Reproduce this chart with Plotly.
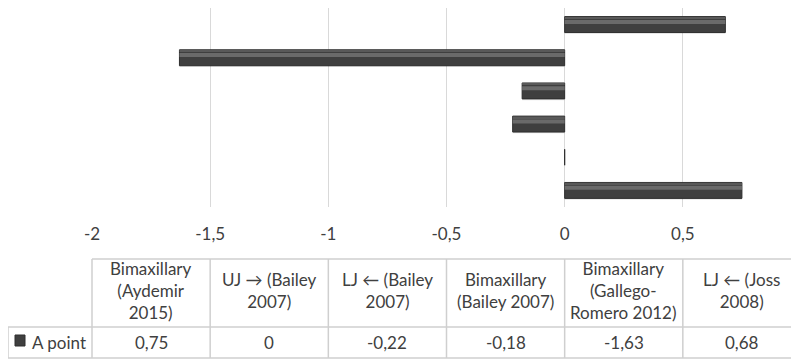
import plotly.graph_objects as go

categories = [
    "Bimaxillary<br>(Aydemir<br>2015)",
    "UJ → (Bailey<br>2007)",
    "LJ ← (Bailey<br>2007)",
    "Bimaxillary<br>(Bailey 2007)",
    "Bimaxillary<br>(Gallego-<br>Romero 2012)",
    "LJ ← (Joss<br>2008)",
]
values = [0.75, 0, -0.22, -0.18, -1.63, 0.68]
series_name = "A point"
tick_vals = [-2, -1.5, -1, -0.5, 0, 0.5, 1]
tick_labels = ["-2", "-1,5", "-1", "-0,5", "0", "0,5", "1"]

X_MIN, X_MAX = -2, 1
W, H = 799, 359
# page has an 8px body margin; figure coords = page coords - 8
ML, MT = 84, 0
PW, PH = 709, 199
MR = W - ML - PW
MB = H - MT - PH
PLOT_LEFT_PAGE, PLOT_BOTTOM_PAGE = 92, 207

def py(Y):
    return (PLOT_BOTTOM_PAGE - Y) / PH

def pxx(X):
    return (X - PLOT_LEFT_PAGE) / PW

FONT = "Lato"
FS = 17
TXT = "#404040"
GRID = "#d9d9d9"
TBL = "#cfcfcf"

cat_ids = list(range(len(categories)))

fig = go.Figure()
# soft shadow
fig.add_trace(go.Bar(x=values, y=cat_ids, orientation="h", width=0.5, offset=-0.28,
                     marker=dict(color="rgba(0,0,0,0.10)", line=dict(width=0)),
                     showlegend=False, hoverinfo="skip"))
# main bar
fig.add_trace(go.Bar(x=values, y=cat_ids, orientation="h", width=0.48, name=series_name,
                     marker=dict(color="#3f3f3f", line=dict(color="#2e2e2e", width=1)),
                     showlegend=False))
# top edge highlight
fig.add_trace(go.Bar(x=values, y=cat_ids, orientation="h", width=0.05, offset=0.18,
                     marker=dict(color="#595959", line=dict(width=0)),
                     showlegend=False, hoverinfo="skip"))
# highlight stripe
fig.add_trace(go.Bar(x=values, y=cat_ids, orientation="h", width=0.12, offset=0.02,
                     marker=dict(color="#6a6a6a", line=dict(width=0)),
                     showlegend=False, hoverinfo="skip"))

fig.update_layout(
    width=W, height=H, barmode="overlay",
    margin=dict(l=ML, r=MR, t=MT, b=MB),
    paper_bgcolor="white", plot_bgcolor="white",
    font=dict(family=FONT, size=FS, color=TXT),
    xaxis=dict(range=[X_MIN, X_MAX], tickvals=tick_vals, ticktext=tick_labels,
               showgrid=True, gridcolor=GRID, gridwidth=1,
               zeroline=True, zerolinecolor=GRID, zerolinewidth=1,
               showline=False, ticks="", ticklabelstandoff=15,
               tickfont=dict(family=FONT, size=FS, color=TXT)),
    yaxis=dict(range=[-0.5, len(categories) - 0.5], showticklabels=False,
               showgrid=False, zeroline=False, showline=False, ticks=""),
)

shapes = []
annos = []
top_y, mid_y, bot_y = py(259), py(327), py(358)
col_edges = [X_MIN + 0.5 * i for i in range(len(categories) + 1)]

# horizontal lines
shapes.append(dict(type="line", xref="paper", yref="paper", x0=0, x1=1.01, y0=top_y, y1=top_y,
                   line=dict(color=TBL, width=1.5)))
for yy in (mid_y, bot_y):
    shapes.append(dict(type="line", xref="paper", yref="paper", x0=pxx(8), x1=1.01, y0=yy, y1=yy,
                       line=dict(color=TBL, width=1.5)))
# vertical lines
shapes.append(dict(type="line", xref="paper", yref="paper", x0=0, x1=0, y0=top_y, y1=bot_y,
                   line=dict(color=TBL, width=1.5)))
for e in col_edges[1:-1]:
    shapes.append(dict(type="line", xref="x", yref="paper", x0=e, x1=e, y0=top_y, y1=bot_y,
                       line=dict(color=TBL, width=1.5)))
shapes.append(dict(type="line", xref="paper", yref="paper", x0=pxx(8), x1=pxx(8), y0=mid_y, y1=bot_y,
                   line=dict(color=TBL, width=1.5)))

hdr_y = py(290.5)
row_y = py(342.5)
for i, (c, v) in enumerate(zip(categories, values)):
    cx = (col_edges[i] + col_edges[i + 1]) / 2
    annos.append(dict(xref="x", yref="paper", x=cx, y=hdr_y, text=c, showarrow=False,
                      xanchor="center", yanchor="middle", align="center",
                      font=dict(family=FONT, size=FS, color=TXT)))
    label = ("%g" % v).replace(".", ",")
    annos.append(dict(xref="x", yref="paper", x=cx, y=row_y, text=label, showarrow=False,
                      xanchor="center", yanchor="middle",
                      font=dict(family=FONT, size=FS, color=TXT)))

# legend key
shapes.append(dict(type="rect", xref="paper", yref="paper", x0=pxx(15), x1=pxx(25),
                   y0=py(346), y1=py(335), fillcolor="#3f3f3f", line=dict(color="#2e2e2e", width=1)))
annos.append(dict(xref="paper", yref="paper", x=pxx(30), y=row_y, text=series_name, showarrow=False,
                  xanchor="left", yanchor="middle", font=dict(family=FONT, size=FS, color=TXT)))

fig.update_layout(shapes=shapes, annotations=annos)
fig.write_html("out.html")
